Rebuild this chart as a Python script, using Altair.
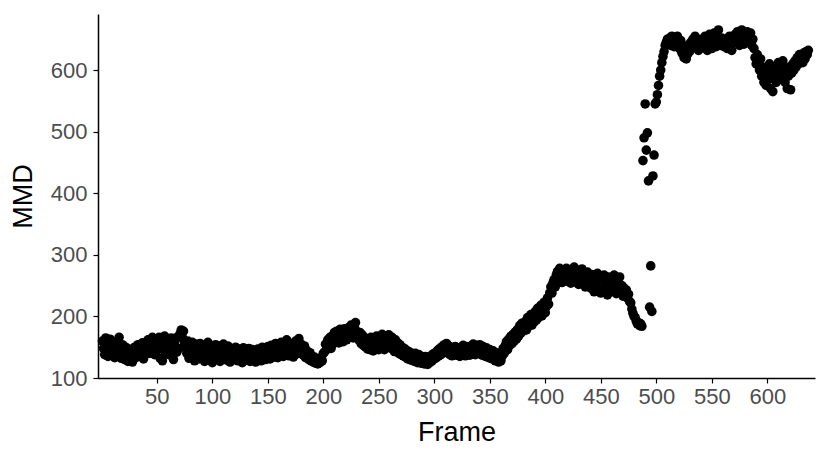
import altair as alt
import pandas as pd

mmd = [
160, 148, 138, 165, 150, 135, 157, 163, 140, 153,
146, 133, 158, 150, 137, 166, 145, 132, 154, 142,
130, 150, 139, 127, 147, 134, 145, 126, 141, 150,
133, 144, 154, 135, 147, 138, 157, 131, 150, 143,
152, 162, 140, 158, 146, 166, 152, 138, 163, 155,
146, 166, 132, 160, 128, 153, 168, 140, 151, 162,
138, 157, 165, 145, 130, 155, 163, 142, 167, 148,
172, 178, 166, 176, 158, 150, 140, 160, 132, 152,
140, 158, 145, 128, 155, 136, 150, 131, 156, 142,
136, 152, 127, 148, 133, 158, 140, 129, 150, 125,
146, 133, 154, 130, 143, 152, 127, 149, 137, 155,
133, 146, 129, 152, 139, 126, 148, 135, 144, 130,
150, 137, 128, 147, 134, 143, 125, 149, 132, 144,
129, 142, 148, 127, 138, 146, 131, 143, 126, 137,
147, 132, 142, 128, 150, 136, 145, 130, 141, 151,
140, 131, 153, 142, 148, 134, 156, 143, 133, 150,
139, 158, 145, 135, 154, 141, 162, 146, 136, 152,
142, 156, 134, 149, 160, 139, 152, 164, 143, 155,
147, 137, 152, 133, 145, 136, 130, 141, 128, 135,
126, 134, 124, 131, 123, 129, 125, 133, 128, 140,
142, 155, 146, 162, 152, 166, 148, 168, 156, 174,
160, 176, 164, 157, 179, 166, 174, 159, 180, 167,
162, 176, 182, 168, 186, 174, 165, 183, 190, 176,
170, 162, 174, 156, 170, 153, 166, 150, 164, 147,
160, 146, 166, 152, 144, 163, 150, 168, 155, 146,
165, 152, 171, 156, 146, 168, 158, 150, 170, 156,
148, 166, 154, 143, 162, 147, 157, 140, 154, 138,
150, 136, 148, 134, 145, 131, 143, 133, 129, 140,
134, 127, 140, 131, 125, 138, 129, 124, 135, 127,
123, 135, 126, 122, 133, 125, 136, 128, 139, 131,
141, 133, 145, 136, 148, 138, 151, 141, 154, 144,
156, 141, 152, 138, 150, 136, 148, 139, 151, 137,
149, 140, 135, 150, 138, 153, 141, 136, 151, 139,
148, 137, 152, 140, 155, 143, 138, 153, 141, 151,
154, 142, 137, 151, 140, 135, 149, 138, 133, 146,
136, 131, 144, 133, 128, 141, 130, 126, 137, 128,
135, 148, 140, 153, 159, 146, 163, 153, 168, 156,
171, 160, 175, 163, 179, 168, 185, 173, 189, 176,
186, 192, 178, 198, 184, 195, 203, 186, 201, 191,
208, 194, 213, 198, 211, 218, 201, 215, 223, 206,
216, 230, 220, 238, 248, 238, 255, 260, 248, 268,
273, 260, 278, 266, 255, 275, 262, 257, 278, 265,
259, 276, 254, 272, 263, 280, 256, 274, 261, 252,
272, 258, 277, 254, 270, 248, 266, 272, 251, 264,
246, 268, 255, 240, 264, 250, 270, 244, 262, 238,
260, 246, 267, 241, 258, 235, 264, 249, 240, 262,
244, 267, 252, 237, 260, 246, 264, 240, 250, 233,
246, 236, 243, 230, 236, 224, 222, 212, 205, 200,
198, 192, 188, 190, 185, 188, 184, 453, 490, 545,
470, 498, 420, 215, 282, 208, 428, 462, 545, 548,
560, 575, 590, 600, 612, 622, 630, 640, 645, 650,
645, 652, 640, 655, 648, 638, 650, 645, 655, 642,
635, 648, 628, 640, 620, 632, 618, 625, 640, 630,
645, 635, 650, 642, 655, 638, 648, 632, 645, 640,
650, 636, 645, 655, 640, 632, 648, 658, 643, 635,
650, 660, 645, 638, 655, 665, 648, 640, 652, 645,
638, 650, 642, 635, 648, 655, 640, 632, 645, 650,
658, 645, 662, 650, 640, 655, 665, 648, 642, 658,
650, 662, 645, 655, 660, 640, 650, 635, 620, 610,
625, 612, 600, 618, 590, 605, 580, 595, 575, 598,
585, 610, 570, 600, 565, 592, 605, 580, 598, 612,
590, 605, 585, 615, 600, 580, 595, 570, 590, 605,
568, 595, 610, 600, 615, 605, 620, 610, 625, 615,
622, 612, 628, 618, 630, 625, 632,
]
frames = list(range(1, len(mmd) + 1))
x_ticks = [50, 100, 150, 200, 250, 300, 350, 400, 450, 500, 550, 600]
y_ticks = [100, 200, 300, 400, 500, 600]

df = pd.DataFrame({"Frame": frames, "MMD": mmd})

font = "Liberation Sans"

chart = alt.Chart(df).mark_circle(size=92, color="black", opacity=1).encode(
    x=alt.X("Frame:Q", scale=alt.Scale(domain=[-3, 643], nice=False, zero=False),
            axis=alt.Axis(values=x_ticks, title="Frame")),
    y=alt.Y("MMD:Q", scale=alt.Scale(domain=[100, 691], nice=False, zero=False),
            axis=alt.Axis(values=y_ticks, title="MMD")),
).properties(
    width=717, height=364,
    autosize=alt.AutoSizeParams(type="none"),
    padding={"left": 90, "top": 6, "right": 7, "bottom": 75},
).configure_view(
    stroke=None
).configure_axis(
    grid=False,
    domainColor="black", domainWidth=1.5,
    tickColor="black", tickWidth=1.2, tickSize=5,
    labelColor="#4D4D4D", labelFont=font, labelFontSize=22,
    titleColor="black", titleFont=font, titleFontSize=27, titleFontWeight="normal",
) .configure_axisX(
    labelPadding=3, titlePadding=12
).configure_axisY(
    labelPadding=6, titlePadding=13
)

chart.save("out.html", embed_options={"renderer": "svg", "actions": False})
